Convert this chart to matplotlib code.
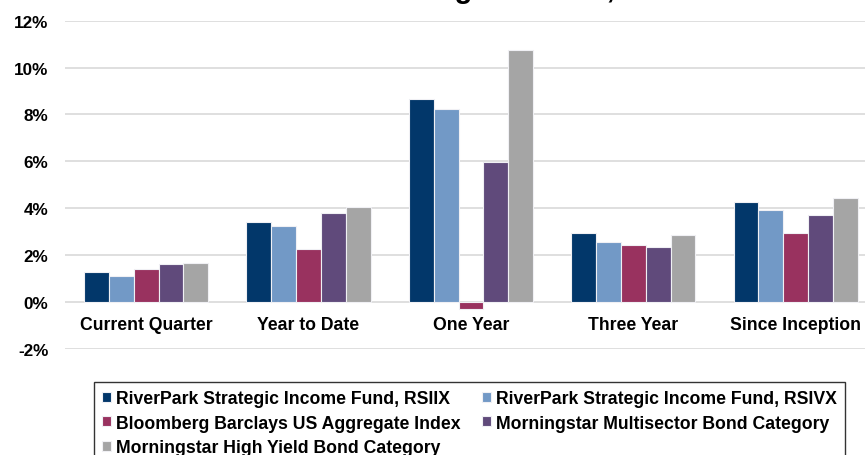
import matplotlib
matplotlib.use("Agg")
import matplotlib.pyplot as plt
import numpy as np

plt.rcParams["font.family"] = ["Liberation Sans", "DejaVu Sans"]
plt.rcParams["font.weight"] = "bold"

categories = ["Current Quarter", "Year to Date", "One Year", "Three Year", "Since Inception"]
series_names = [
    "RiverPark Strategic Income Fund, RSIIX",
    "RiverPark Strategic Income Fund, RSIVX",
    "Bloomberg Barclays US Aggregate Index",
    "Morningstar Multisector Bond Category",
    "Morningstar High Yield Bond Category",
]
rsiix = [1.28, 3.42, 8.66, 2.94, 4.25]
rsivx = [1.11, 3.26, 8.24, 2.58, 3.93]
agg_index = [1.42, 2.26, -0.31, 2.43, 2.94]
multisector = [1.61, 3.79, 5.96, 2.35, 3.73]
high_yield = [1.68, 4.06, 10.73, 2.88, 4.46]
colors = ["#02376A", "#7299C6", "#99325F", "#604A7B", "#A5A5A5"]
yticks = [-2, 0, 2, 4, 6, 8, 10, 12]

fig = plt.figure(figsize=(8.65, 4.56), dpi=100)
ax = fig.add_axes([0.0751, 0.2325, 0.9387, 0.7199])

x = np.arange(len(categories))
width = 0.153
bars = []
for j, vals in enumerate([rsiix, rsivx, agg_index, multisector, high_yield]):
    b = ax.bar(x + (j - 2) * width, vals, width, color=colors[j],
               edgecolor="#F0F0F4", linewidth=0.8, label=series_names[j], zorder=3)
    bars.append(b)

ax.set_ylim(-2, 12)
ax.set_xlim(-0.5, len(categories) - 0.5)
ax.set_yticks(yticks)
ax.set_yticklabels([f"{v}%" for v in yticks], fontsize=12.3, fontweight="bold")
ax.yaxis.grid(True, color="#D9D9D9", linewidth=1.2, zorder=0)
ax.set_axisbelow(True)
for s in ax.spines.values():
    s.set_visible(False)
# category labels sit under the 0% line, as in Excel
ax.spines["bottom"].set_position(("data", 0))
ax.set_xticks(x)
ax.set_xticklabels(categories, fontsize=12.7, fontweight="bold")
ax.tick_params(axis="x", length=0, pad=10)
ax.tick_params(axis="y", length=0, pad=12)

# legend filled row by row like the original
order = [0, 2, 4, 1, 3]
handles = [bars[i] for i in order]
labels = [series_names[i] for i in order]
leg = fig.legend(handles, labels, loc="upper left",
                 bbox_to_anchor=(94.3 / 865, 1 - 383.3 / 456), ncol=2,
                 frameon=True, fancybox=False, edgecolor="black",
                 prop={"size": 12.7, "weight": "bold"},
                 handlelength=0.5, handleheight=0.5, handletextpad=0.3,
                 columnspacing=1.2, labelspacing=0.42, borderpad=0.45,
                 borderaxespad=0)
leg.get_frame().set_linewidth(1.0)

# title is cut off at the top edge in the original too
fig.text(0.505, 1 + 1.5 / 456, "Performance Through June 30, 2017", ha="center",
         va="baseline", fontsize=21, fontweight="bold")

fig.savefig("out.png", dpi=100)
